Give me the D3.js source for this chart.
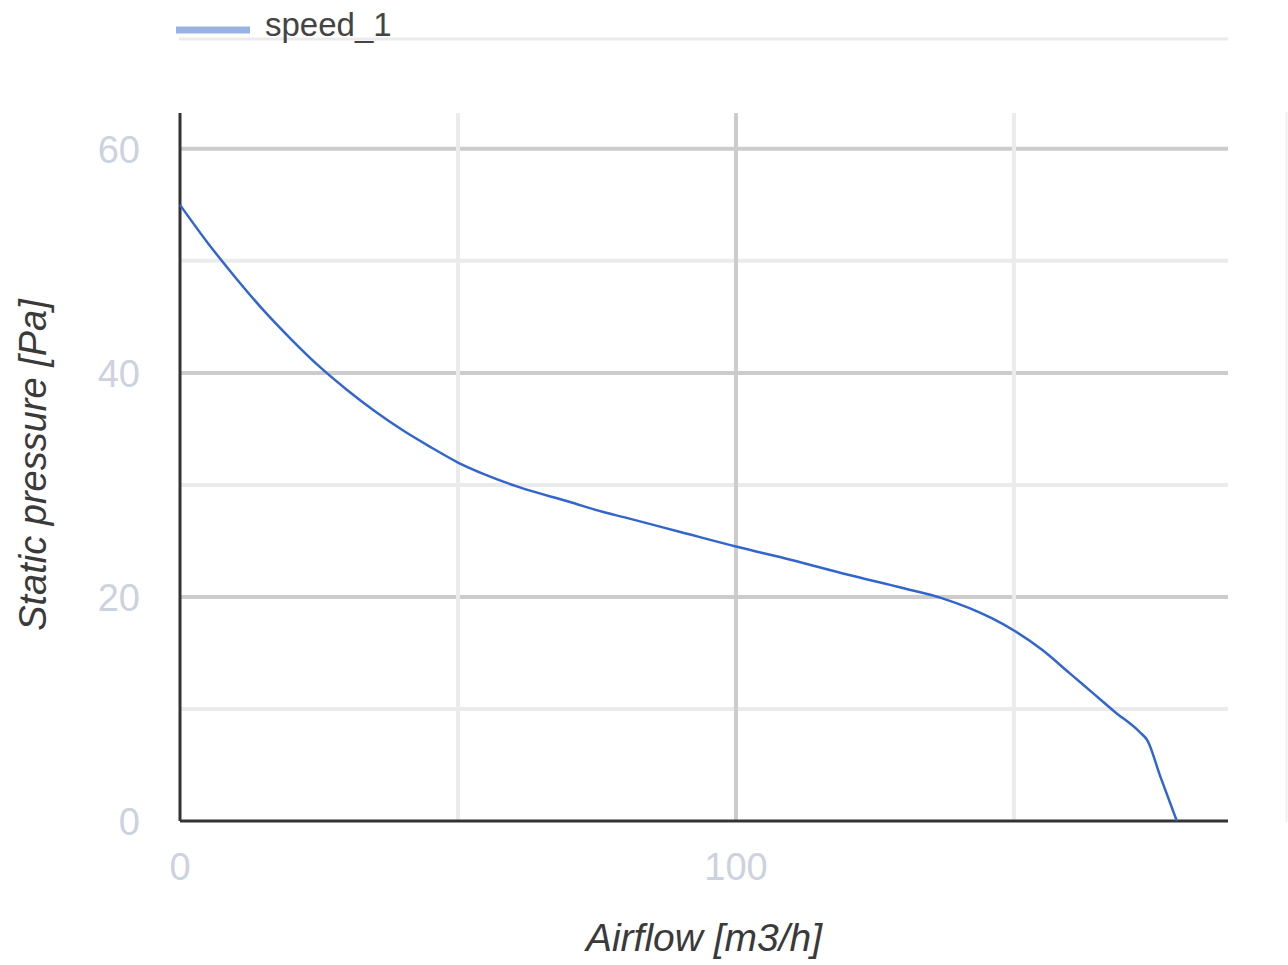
<!DOCTYPE html>
<html>
<head>
<meta charset="utf-8">
<script src="https://cdn.jsdelivr.net/npm/d3@7"></script>
<style>
  body { margin: 0; background: #fff; }
  text { font-family: Arial, "Liberation Sans", sans-serif; }
</style>
</head>
<body>
<div class="chart"></div>
<script>
// data
const airflow  = [0, 5, 10, 15, 20, 25, 30, 35, 40, 45, 50, 55, 61, 70, 76, 80, 90, 100, 110, 120, 130, 137, 142, 146, 150, 155, 160, 164, 168, 172.7, 174, 176.3, 179.3];
const pressure = [55, 51.6, 48.5, 45.6, 43.0, 40.6, 38.5, 36.6, 34.9, 33.4, 32.0, 30.9, 29.8, 28.5, 27.6, 27.1, 25.8, 24.5, 23.3, 22.0, 20.8, 19.9, 19.0, 18.1, 17.0, 15.3, 13.2, 11.5, 9.8, 7.9, 7.2, 4.0, 0];
const seriesName = "speed_1";
const yMajor = [0, 20, 40, 60];
const yMinor = [10, 30, 50];
const xMajor = [0, 100];
const xMinor = [50, 150];

const data = airflow.map((x, i) => ({x: x, y: pressure[i]}));

const W = 1288, H = 965;
const margin = ({top: 113, right: 60, bottom: 144, left: 180});
const width = W - margin.left - margin.right;
const height = H - margin.top - margin.bottom;

const svg = d3.select('.chart')
    .append('svg')
    .attr("width", W)
    .attr("height", H)

const g = svg.append("g")
    .attr("transform", `translate(${margin.left},${margin.top})`)

const xScale = d3.scaleLinear()
  .domain([0, 188.5])
  .range([0, width]);

const yScale = d3.scaleLinear()
  .domain([0, 63.2])
  .range([height, 0]);

// gridlines
g.selectAll(".ygrid")
  .data(yMinor.concat(yMajor.filter(d => d > 0)))
  .enter().append("line")
  .attr("x1", 0).attr("x2", width)
  .attr("y1", d => yScale(d)).attr("y2", d => yScale(d))
  .attr("stroke", d => yMajor.includes(d) ? "#cccccc" : "#ebebeb")
  .attr("stroke-width", 4)

g.selectAll(".xgrid")
  .data(xMinor.concat(xMajor.filter(d => d > 0)))
  .enter().append("line")
  .attr("y1", 0).attr("y2", height)
  .attr("x1", d => xScale(d)).attr("x2", d => xScale(d))
  .attr("stroke", d => xMajor.includes(d) ? "#cccccc" : "#ebebeb")
  .attr("stroke-width", 4)

// baselines
g.append("line")
  .attr("x1", 0).attr("x2", 0).attr("y1", 0).attr("y2", height)
  .attr("stroke", "#333").attr("stroke-width", 3)
g.append("line")
  .attr("x1", 0).attr("x2", width).attr("y1", yScale(0)).attr("y2", yScale(0))
  .attr("stroke", "#333").attr("stroke-width", 3)

// faint edge on the right
svg.append("line")
  .attr("x1", 1286.5).attr("x2", 1286.5).attr("y1", 112).attr("y2", 822)
  .attr("stroke", "#f0f0f0").attr("stroke-width", 2)

// series line
const line = d3.line()
  .x(d => xScale(d.x))
  .y(d => yScale(d.y))
  .curve(d3.curveMonotoneX)

g.append("path")
  .datum(data)
  .attr("fill", "none")
  .attr("stroke", "#3366cc")
  .attr("stroke-width", 2.5)
  .attr("d", line)

// tick labels
g.selectAll(".ylab")
  .data(yMajor)
  .enter().append("text")
  .attr("x", -40)
  .attr("y", d => yScale(d))
  .attr("dy", "0.36em")
  .attr("text-anchor", "end")
  .attr("font-size", 38)
  .attr("fill", "#ccd2de")
  .text(d => d)

g.selectAll(".xlab")
  .data(xMajor)
  .enter().append("text")
  .attr("x", d => xScale(d))
  .attr("y", height + 59)
  .attr("text-anchor", "middle")
  .attr("font-size", 38)
  .attr("fill", "#ccd2de")
  .text(d => d)

// axis titles
svg.append("text")
  .attr("x", 704)
  .attr("y", 951)
  .attr("text-anchor", "middle")
  .attr("font-size", 39)
  .attr("font-style", "italic")
  .attr("fill", "#3a3a3a")
  .text("Airflow [m3/h]")

svg.append("text")
  .attr("transform", "translate(46,465) rotate(-90)")
  .attr("text-anchor", "middle")
  .attr("font-size", 38)
  .attr("font-style", "italic")
  .attr("fill", "#3a3a3a")
  .text("Static pressure [Pa]")

// legend
svg.append("line")
  .attr("x1", 179).attr("x2", 1228).attr("y1", 39).attr("y2", 39)
  .attr("stroke", "#ebebeb").attr("stroke-width", 3)
svg.append("line")
  .attr("x1", 176).attr("x2", 250).attr("y1", 30).attr("y2", 30)
  .attr("stroke", "#98b2e4").attr("stroke-width", 7)
svg.append("text")
  .attr("x", 265)
  .attr("y", 36)
  .attr("font-size", 33)
  .attr("fill", "#444")
  .text(seriesName)
</script>
</body>
</html>
